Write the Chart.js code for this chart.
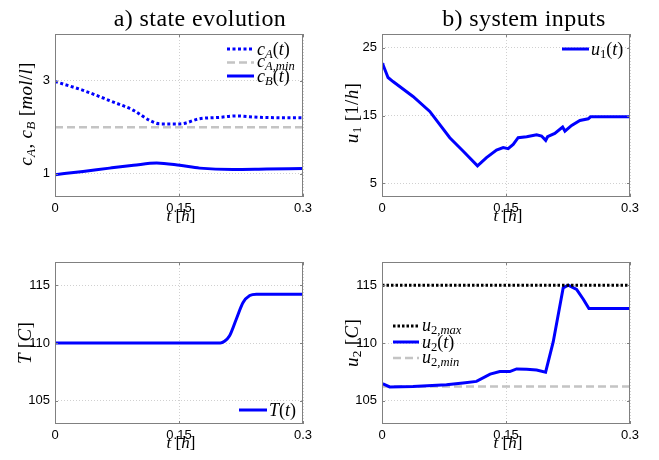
<!DOCTYPE html>
<html>
<head>
<meta charset="utf-8">
<script src="https://cdn.jsdelivr.net/npm/chart.js@4.4.0/dist/chart.umd.min.js"></script>
<style>
  body { margin: 0; background: #fff; }
  #wrap { position: relative; width: 659px; height: 460px; overflow: hidden; font-family: 'Liberation Serif', serif; }
  canvas { position: absolute; left: 0; top: 0; }
  .txt { position: absolute; white-space: nowrap; color: #000; line-height: 1; }
  .title { font-size: 24px; letter-spacing: 0.4px; transform: translate(-50%, -50%); }
  .xlab { font-size: 17px; transform: translate(-50%, -50%); }
  .ylab { font-size: 19px; letter-spacing: 0.3px; transform: translate(-50%, -50%) rotate(-90deg); }
  .leg { font-size: 18px; transform: translateY(-50%); }
  sub { font-size: 70%; vertical-align: -0.25em; line-height: 0; }
</style>
</head>
<body>
<div id="wrap">
  <canvas id="chartA" width="659" height="460"></canvas>
  <canvas id="chartB" width="659" height="460"></canvas>
  <canvas id="chartC" width="659" height="460"></canvas>
  <canvas id="chartD" width="659" height="460"></canvas>

  <div class="txt title" style="left:200px; top:18px;">a) state evolution</div>
  <div class="txt title" style="left:524px; top:18px;">b) system inputs</div>

  <div class="txt xlab" style="left:181px; top:215px;"><i>t</i> [<i>h</i>]</div>
  <div class="txt xlab" style="left:508px; top:215px;"><i>t</i> [<i>h</i>]</div>
  <div class="txt xlab" style="left:181px; top:442px;"><i>t</i> [<i>h</i>]</div>
  <div class="txt xlab" style="left:508px; top:442px;"><i>t</i> [<i>h</i>]</div>

  <div class="txt ylab" style="left:25px; top:114px;"><i>c</i><sub><i>A</i></sub>, <i>c</i><sub><i>B</i></sub> [<i>mol</i>/<i>l</i>]</div>
  <div class="txt ylab" style="left:351px; top:113px;"><i>u</i><sub>1</sub> [1/<i>h</i>]</div>
  <div class="txt ylab" style="left:24px; top:343px;"><i>T</i> [<i>C</i>]</div>
  <div class="txt ylab" style="left:351px; top:343px;"><i>u</i><sub>2</sub> [<i>C</i>]</div>

  <div class="txt leg" style="left:257px; top:49px;"><i>c</i><sub><i>A</i></sub>(<i>t</i>)</div>
  <div class="txt leg" style="left:257px; top:61px;"><i>c</i><sub><i>A,min</i></sub></div>
  <div class="txt leg" style="left:257px; top:76px;"><i>c</i><sub><i>B</i></sub>(<i>t</i>)</div>
  <div class="txt leg" style="left:591px; top:49px;"><i>u</i><sub>1</sub>(<i>t</i>)</div>
  <div class="txt leg" style="left:269px; top:410px;"><i>T</i>(<i>t</i>)</div>
  <div class="txt leg" style="left:422px; top:325px;"><i>u</i><sub>2,<i>max</i></sub></div>
  <div class="txt leg" style="left:422px; top:342px;"><i>u</i><sub>2</sub>(<i>t</i>)</div>
  <div class="txt leg" style="left:422px; top:357px;"><i>u</i><sub>2,<i>min</i></sub></div>
</div>

<script>
// tick values
const tTicks = [0, 0.15, 0.3];
const concTicks = [1, 3];
const u1Ticks = [5, 15, 25];
const tempTicks = [105, 110, 115];

// a) states
const tCA = [0, 0.034, 0.066, 0.095, 0.115, 0.127, 0.151, 0.175, 0.199, 0.219, 0.248, 0.3];
const cA = [2.98, 2.79, 2.57, 2.36, 2.14, 2.07, 2.07, 2.18, 2.21, 2.24, 2.21, 2.2];
const tCAmin = [0, 0.3];
const cAmin = [2.0, 2.0];
const tCB = [0, 0.034, 0.066, 0.095, 0.123, 0.151, 0.175, 0.215, 0.256, 0.3];
const cB = [0.98, 1.05, 1.12, 1.18, 1.23, 1.18, 1.12, 1.09, 1.10, 1.11];
const tT = [0, 0.2, 0.205, 0.211, 0.2195, 0.2275, 0.2356, 0.2436, 0.3];
const temp = [110, 110, 110.15, 110.6, 112.1, 113.5, 114.1, 114.22, 114.22];

// b) inputs
const tU1 = [0, 0.0012, 0.0073, 0.0133, 0.0375, 0.0578, 0.082, 0.098, 0.1155, 0.1264, 0.1385, 0.1466,
  0.1526, 0.1587, 0.1647, 0.175, 0.187, 0.193, 0.198, 0.2003, 0.209, 0.2185, 0.2213, 0.2294, 0.2394,
  0.2495, 0.2524, 0.3];
const u1 = [22.7, 22.47, 20.6, 20.0, 17.8, 15.6, 11.73, 9.77, 7.58, 8.8, 9.92, 10.27,
  10.12, 10.75, 11.73, 11.88, 12.17, 11.97, 11.34, 11.88, 12.36, 13.29, 12.7, 13.54, 14.27,
  14.52, 14.8, 14.8];
const tU2 = [0, 0.0012, 0.0093, 0.0375, 0.078, 0.098, 0.1143, 0.1308, 0.1425, 0.1546, 0.1628, 0.175,
  0.187, 0.1979, 0.2071, 0.2192, 0.2253, 0.2354, 0.2435, 0.2503, 0.3];
const u2 = [106.5, 106.48, 106.2, 106.25, 106.4, 106.54, 106.68, 107.31, 107.53, 107.53, 107.76, 107.73,
  107.67, 107.48, 110.09, 114.77, 115.0, 114.63, 113.78, 112.98, 112.98];
const tU2max = [0, 0.3];
const u2max = [115, 115];
const tU2min = [0, 0.3];
const u2min = [106.25, 106.25];

function pts(ts, vs) {
    return ts.map((t, i) => ({ x: t, y: vs[i] }));
}

// axes box, inner tick marks and legend line samples
const boxPlugin = {
    id: 'box',
    afterDatasetsDraw(chart, args, opts) {
        const ctx = chart.ctx;
        const a = chart.chartArea;
        const sx = chart.scales.x, sy = chart.scales.y;
        ctx.save();
        ctx.strokeStyle = '#808080';
        ctx.lineWidth = 1;
        ctx.strokeRect(Math.round(a.left) + 0.5, Math.round(a.top) + 0.5,
            Math.round(a.right - a.left) - 1, Math.round(a.bottom - a.top) - 1);
        ctx.beginPath();
        sx.ticks.forEach(tk => {
            const px = Math.round(sx.getPixelForValue(tk.value)) + 0.5;
            ctx.moveTo(px, a.bottom); ctx.lineTo(px, a.bottom - 3);
            ctx.moveTo(px, a.top); ctx.lineTo(px, a.top + 3);
        });
        sy.ticks.forEach(tk => {
            const py = Math.round(sy.getPixelForValue(tk.value)) + 0.5;
            ctx.moveTo(a.left, py); ctx.lineTo(a.left + 3, py);
            ctx.moveTo(a.right, py); ctx.lineTo(a.right - 3, py);
        });
        ctx.stroke();

        const lg = opts.legend;
        chart.data.datasets.forEach((ds, i) => {
            const y = lg.y + i * lg.dy;
            ctx.beginPath();
            ctx.setLineDash(ds.borderDash || []);
            ctx.strokeStyle = ds.borderColor;
            ctx.lineWidth = ds.borderWidth;
            ctx.moveTo(lg.x, y);
            ctx.lineTo(lg.x + lg.len, y);
            ctx.stroke();
        });
        ctx.restore();
    }
};

function makeChart(id, datasets, area, yMin, yMax, yTicks) {
    const gridColor = '#d0d0d0';
    const tickFont = { family: 'Liberation Sans', size: 13 };
    return new Chart(document.getElementById(id), {
        type: 'line',
        data: { datasets: datasets },
        options: {
            responsive: false,
            animation: false,
            events: [],
            layout: {
                padding: { left: area.left - 40, top: area.top, right: 659 - area.right, bottom: 460 - area.bottom - 30 }
            },
            elements: { point: { radius: 0 } },
            scales: {
                x: {
                    type: 'linear',
                    min: 0,
                    max: 0.3,
                    afterBuildTicks: s => { s.ticks = tTicks.map(v => ({ value: v })); },
                    afterFit: s => { s.height = 30; },
                    ticks: { font: tickFont, color: '#000', padding: 4, maxRotation: 0, callback: v => String(v) },
                    grid: { color: gridColor, drawTicks: false },
                    border: { display: false, dash: [1, 2] }
                },
                y: {
                    type: 'linear',
                    min: yMin,
                    max: yMax,
                    afterBuildTicks: s => { s.ticks = yTicks.map(v => ({ value: v })); },
                    afterFit: s => { s.width = 40; },
                    ticks: { font: tickFont, color: '#000', padding: 5, callback: v => String(v) },
                    grid: { color: gridColor, drawTicks: false },
                    border: { display: false, dash: [1, 2] }
                }
            },
            plugins: {
                legend: { display: false },
                tooltip: { enabled: false },
                box: { legend: area.legend }
            }
        },
        plugins: [boxPlugin]
    });
}

const blue = '#0000ff';
const gray = '#c4c4c4';

makeChart('chartA', [
    { label: 'cA(t)', data: pts(tCA, cA), borderColor: blue, borderWidth: 3, borderDash: [3, 2.5], cubicInterpolationMode: 'monotone' },
    { label: 'cA,min', data: pts(tCAmin, cAmin), borderColor: gray, borderWidth: 2.5, borderDash: [8, 4] },
    { label: 'cB(t)', data: pts(tCB, cB), borderColor: blue, borderWidth: 3, cubicInterpolationMode: 'monotone' }
], { left: 55, right: 303, top: 34, bottom: 197, legend: { x: 227, y: 49, dy: 13.5, len: 27 } }, 0.5, 4, concTicks);

makeChart('chartB', [
    { label: 'u1(t)', data: pts(tU1, u1), borderColor: blue, borderWidth: 3 }
], { left: 382, right: 630, top: 34, bottom: 197, legend: { x: 562, y: 49, dy: 0, len: 27 } }, 3, 27, u1Ticks);

makeChart('chartC', [
    { label: 'T(t)', data: pts(tT, temp), borderColor: blue, borderWidth: 3, cubicInterpolationMode: 'monotone' }
], { left: 55, right: 303, top: 262, bottom: 424, legend: { x: 239, y: 410, dy: 0, len: 28 } }, 103, 117, tempTicks);

makeChart('chartD', [
    { label: 'u2,max', data: pts(tU2max, u2max), borderColor: '#000', borderWidth: 3, borderDash: [2.5, 2] },
    { label: 'u2(t)', data: pts(tU2, u2), borderColor: blue, borderWidth: 3 },
    { label: 'u2,min', data: pts(tU2min, u2min), borderColor: gray, borderWidth: 2.5, borderDash: [8, 4] }
], { left: 382, right: 630, top: 262, bottom: 424, legend: { x: 393, y: 326, dy: 16, len: 26 } }, 103, 117, tempTicks);
</script>
</body>
</html>
